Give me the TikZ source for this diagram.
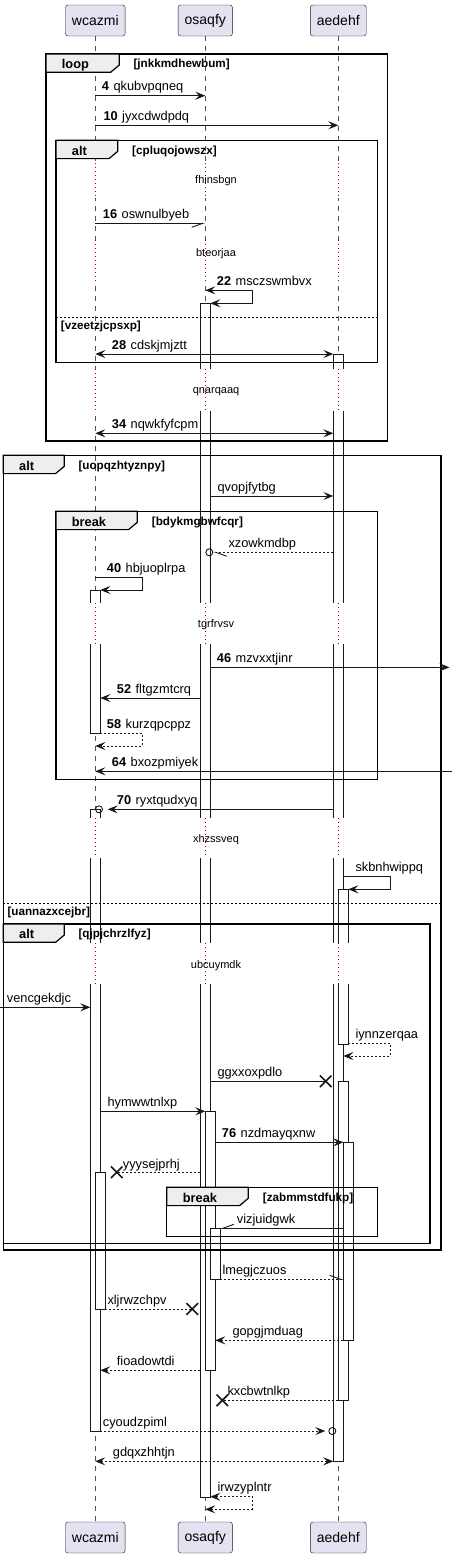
\documentclass[tikz,border=0pt]{standalone}
\usepackage{fontspec}
\setmainfont{Liberation Sans}
\usetikzlibrary{positioning, calc, arrows.meta, shapes.misc}

\definecolor{partfill}{HTML}{E2E2F0}
\definecolor{partline}{HTML}{181818}
\definecolor{tabfill}{HTML}{EEEEEE}
\definecolor{delaydot}{HTML}{A80036}

\tikzset{
  part/.style={draw=partline, fill=partfill, rounded corners=2.5pt, minimum height=31pt, inner xsep=6.5pt, font=\fontsize{14}{16}\selectfont},
  life/.style={draw=partline!75, line width=0.6pt, dash pattern=on 5pt off 5pt},
  dotline/.style={draw=delaydot, line width=0.8pt, dash pattern=on 1pt off 3pt},
  bar/.style={draw=partline, fill=white, line width=0.9pt},
  frm/.style={draw=black, line width=1.5pt},
  tab/.style={draw=black, fill=tabfill, line width=1.2pt},
  divider/.style={draw=black, line width=0.8pt, dash pattern=on 2pt off 2pt},
  plain/.style={draw=partline, line width=0.9pt},
  msg/.style={plain, -{Stealth[length=10pt,width=8pt,inset=4pt]}},
  msgb/.style={plain, {Stealth[length=10pt,width=8pt,inset=4pt]}-{Stealth[length=10pt,width=8pt,inset=4pt]}},
  ret/.style={dash pattern=on 2pt off 2pt},
  half/.style={plain, -{Straight Barb[harpoon,length=11pt,width=8pt]}},
  halfs/.style={plain, -{Straight Barb[harpoon,swap,length=11pt,width=8pt]}},
  lost/.style={draw=partline, cross out, line width=1.6pt, minimum size=10pt, inner sep=0pt},
  ring/.style={draw=partline, circle, line width=0.9pt, minimum size=7pt, inner sep=0pt},
  lbl/.style={anchor=base west, inner sep=0pt, font=\fontsize{12.8}{15}\selectfont},
  delaytxt/.style={inner sep=0pt, font=\fontsize{11}{13}\selectfont},
  ftitle/.style={anchor=base west, inner sep=0pt, font=\bfseries\fontsize{12.8}{15}\selectfont},
  fcond/.style={anchor=base west, inner sep=0pt, font=\bfseries\fontsize{11.7}{14}\selectfont},
}

\begin{document}
\begin{tikzpicture}[x=1pt, y=-1pt]
    \useasboundingbox (0,0) rectangle (455,1558);

    % 参加者
    \node[part] (tw) at (95.3,20.5) {wcazmi};
    \node[part] (to) at (205.3,20.5) {osaqfy};
    \node[part] (ta) at (338.3,20.5) {aedehf};
    \node[part] (bw) at (95.3,1537.5) {wcazmi};
    \node[part] (bo) at (205.3,1537.5) {osaqfy};
    \node[part] (ba) at (338.3,1537.5) {aedehf};

    % バーの列
    \foreach \p in {w,o,a}
      \foreach \k/\n in {-1/L,0/C,1/R,2/R2,3/R3}
        \coordinate (\p\n) at ($(t\p.center)+(5*\k,0)$);

    % 外への端点
    \coordinate (eR1) at (449.5,667.3);
    \coordinate (eR2) at (452,771.3);
    \coordinate (eL1) at (0,1007.3);

    % ライフライン
    \draw[life] (tw) -- (bw);
    \draw[life] (to) -- (bo);
    \draw[life] (ta) -- (ba);

    % 活性化バー
    \draw[bar] (wL |- 0,590) rectangle (wR |- 0,733.7);
    \draw[bar] (wL |- 0,809.3) rectangle (wR |- 0,1431);
    \draw[bar] (wC |- 0,1172.3) rectangle (wR2 |- 0,1309);
    \draw[bar] (oL |- 0,303.3) rectangle (oR |- 0,1497.3);
    \draw[bar] (oC |- 0,1111.3) rectangle (oR2 |- 0,1370);
    \draw[bar] (oR |- 0,1228.3) rectangle (oR3 |- 0,1279.3);
    \draw[bar] (aL |- 0,354) rectangle (aR |- 0,1461.3);
    \draw[bar] (aC |- 0,889.3) rectangle (aR2 |- 0,1044);
    \draw[bar] (aC |- 0,1081.3) rectangle (aR2 |- 0,1400.3);
    \draw[bar] (aR |- 0,1142.3) rectangle (aR3 |- 0,1340.7);

    % 遅延
    \foreach \ya/\yb in {163/198, 240/283, 369/411, 603/644, 818/858, 943/984}
      \foreach \p in {w,o,a} {
        \fill[white] ($(\p L |- 0,\ya)+(-1,0)$) rectangle ($(\p R3 |- 0,\yb)+(1,0)$);
        \draw[dotline] (\p C |- 0,\ya) -- (\p C |- 0,\yb);
      }
    \node[delaytxt] (d1) at (216,180.7) {fhinsbgn};
    \node[delaytxt] (d2) at (216,253.3) {bteorjaa};
    \node[delaytxt] (d3) at (216,391.7) {qnarqaaq};
    \node[delaytxt] (d4) at (216,625) {tgrfrvsv};
    \node[delaytxt] (d5) at (216,840) {xhzssveq};
    \node[delaytxt] (d6) at (216,965.7) {ubcuymdk};

    % 枠 loop
    \draw[frm] (46,54) rectangle (387.7,441);
    \draw[tab] (46,54) -- (119.3,54) -- (119.3,65) -- (110.6,72.3) -- (46,72.3) -- cycle;
    \node[ftitle] (floop) at (61.7,68.8) {loop};
    \node[fcond] (cloop) at (133.3,67.8) {[jnkkmdhewbum]};

    % 枠 alt (内側)
    \draw[frm] (56,140.3) rectangle (377.7,362.3);
    \draw[tab] (56,140.3) -- (117.7,140.3) -- (117.7,151.3) -- (109,158.6) -- (56,158.6) -- cycle;
    \node[ftitle] (falt1) at (71.7,155.1) {alt};
    \node[fcond] (calt1) at (132,154.1) {[cpluqojowszx]};
    \draw[divider] (56,317) -- (377.7,317);
    \node[fcond] (dalt1) at (60.7,329) {[vzeetzjcpsxp]};

    % 枠 alt (外側)
    \draw[frm] (3.3,455.3) rectangle (441,1250);
    \draw[tab] (3.3,455.3) -- (64.3,455.3) -- (64.3,466.3) -- (55.6,473.6) -- (3.3,473.6) -- cycle;
    \node[ftitle] (falt2) at (19,470.1) {alt};
    \node[fcond] (calt2) at (78.3,469.1) {[uopqzhtyznpy]};
    \draw[divider] (3.3,903.3) -- (441,903.3);
    \node[fcond] (dalt2) at (7.3,915.3) {[uannazxcejbr]};

    % 枠 break
    \draw[frm] (56,511.3) rectangle (377.7,779.3);
    \draw[tab] (56,511.3) -- (137.3,511.3) -- (137.3,522.3) -- (128.6,529.6) -- (56,529.6) -- cycle;
    \node[ftitle] (fbrk1) at (71.7,526.1) {break};
    \node[fcond] (cbrk1) at (151.7,525.1) {[bdykmgbwfcqr]};

    % 枠 alt (入れ子)
    \draw[frm] (3.3,924) rectangle (430,1243.3);
    \draw[tab] (3.3,924) -- (64.3,924) -- (64.3,935) -- (55.6,942.3) -- (3.3,942.3) -- cycle;
    \node[ftitle] (falt3) at (19,938.8) {alt};
    \node[fcond] (calt3) at (78.3,937.8) {[qjpjchrzlfyz]};

    % 枠 break (入れ子)
    \draw[frm] (166.7,1187.3) rectangle (377.7,1236.7);
    \draw[tab] (166.7,1187.3) -- (248.3,1187.3) -- (248.3,1198.3) -- (239.6,1205.6) -- (166.7,1205.6) -- cycle;
    \node[ftitle] (fbrk2) at (182.7,1202.1) {break};
    \node[fcond] (cbrk2) at (262.7,1201.1) {[zabmmstdfukp]};

    % メッセージ
    \draw[msg] (wC |- 0,95.7) -- (oC |- 0,95.7);
    \node[lbl] (t4) at (101.7,90.7) {\textbf{4}\hspace{4.5pt}qkubvpqneq};
    \draw[msg] (wC |- 0,125.3) -- (aC |- 0,125.3);
    \node[lbl] (t10) at (103.3,120.3) {\textbf{10}\hspace{4.5pt}jyxcdwdpdq};
    \draw[halfs] (wC |- 0,223.3) -- (oC |- 0,223.3);
    \node[lbl] (t16) at (102.7,218.3) {\textbf{16}\hspace{4.5pt}oswnulbyeb};
    \draw[msgb] (oC |- 0,290.3) -- ++(47,0) -- ++(0,13) -- (oR |- 0,303.3);
    \node[lbl] (t22) at (216.7,285.3) {\textbf{22}\hspace{4.5pt}msczswmbvx};
    \draw[msgb] (wC |- 0,354) -- (aL |- 0,354);
    \node[lbl] (t28) at (111.7,349) {\textbf{28}\hspace{4.5pt}cdskjmjztt};
    \draw[msgb] (wC |- 0,433.3) -- (aL |- 0,433.3);
    \node[lbl] (t34) at (111.7,428.3) {\textbf{34}\hspace{4.5pt}nqwkfyfcpm};
    \draw[msg] (oR |- 0,496) -- (aL |- 0,496);
    \node[lbl] (tq) at (217.3,491) {qvopjfytbg};
    \node[ring] (r1) at ($(oR |- 0,552.3)+(-1,0)$) {};
    \draw[half, ret] (aL |- 0,552.3) -- (r1.east);
    \node[lbl] (tx) at (228.3,547.3) {xzowkmdbp};
    \draw[msg] (wC |- 0,577.7) -- ++(47.4,0) -- ++(0,12.3) -- (wR |- 0,590);
    \node[lbl] (t40) at (106.7,572.7) {\textbf{40}\hspace{4.5pt}hbjuoplrpa};
    \draw[msg] (oR |- 0,667.3) -- (eR1);
    \node[lbl] (t46) at (216.7,662.3) {\textbf{46}\hspace{4.5pt}mzvxxtjinr};
    \draw[msg] (oL |- 0,698) -- (wR |- 0,698);
    \node[lbl] (t52) at (116.7,693) {\textbf{52}\hspace{4.5pt}fltgzmtcrq};
    \draw[msg, ret] (wR |- 0,733.7) -- ++(42.4,0) -- ++(0,12.3) -- (wC |- 0,746);
    \node[lbl] (t58) at (106.7,728.7) {\textbf{58}\hspace{4.5pt}kurzqpcppz};
    \draw[msg] (eR2) -- (wC |- 0,771.3);
    \node[lbl] (t64) at (111.7,766.3) {\textbf{64}\hspace{4.5pt}bxozpmiyek};
    \node[ring] (r2) at ($(wR |- 0,809.3)+(-1.3,0)$) {};
    \draw[msg] (aL |- 0,809.3) -- ($(r2.east)+(4.8,0)$);
    \node[lbl] (t70) at (116.7,804.3) {\textbf{70}\hspace{4.5pt}ryxtqudxyq};
    \draw[msg] (aR |- 0,876.7) -- ++(47,0) -- ++(0,12.6) -- (aR2 |- 0,889.3);
    \node[lbl] (ts) at (355.3,871.7) {skbnhwippq};
    \draw[msg] (eL1) -- (wL |- 0,1007.3);
    \node[lbl] (tv) at (6.7,1002.3) {vencgekdjc};
    \draw[msg, ret] (aR2 |- 0,1043.3) -- ++(42,0) -- ++(0,12.7) -- (aR |- 0,1056);
    \node[lbl] (ti) at (355.3,1038.3) {iynnzerqaa};
    \node[lost] (x1) at (325.7,1081.3) {};
    \draw[plain] (oR |- 0,1081.3) -- (x1.center);
    \node[lbl] (tg) at (217.3,1076.3) {ggxxoxpdlo};
    \draw[msg] (wR |- 0,1111.3) -- (oC |- 0,1111.3);
    \node[lbl] (th) at (107.3,1106.3) {hymwwtnlxp};
    \draw[msg] (oR2 |- 0,1142.3) -- (aR |- 0,1142.3);
    \node[lbl] (t76) at (221.7,1137.3) {\textbf{76}\hspace{4.5pt}nzdmayqxnw};
    \node[lost] (x2) at (116.7,1172.3) {};
    \draw[plain, ret] (oL |- 0,1172.3) -- (x2.center);
    \node[lbl] (ty) at (122.7,1168) {yyysejprhj};
    \draw[halfs] (aR |- 0,1228.3) -- (oR3 |- 0,1228.3);
    \node[lbl] (tvi) at (236.7,1223.3) {vizjuidgwk};
    \draw[half, ret] (oR3 |- 0,1279.3) -- (aR |- 0,1279.3);
    \node[lbl] (tl) at (222.3,1274.3) {lmegjczuos};
    \node[lost] (x3) at (192.3,1309) {};
    \draw[plain, ret] (wR2 |- 0,1309) -- (x3.center);
    \node[lbl] (txl) at (107.3,1304) {xljrwzchpv};
    \draw[msg, ret] (aR |- 0,1340.3) -- (oR2 |- 0,1340.3);
    \node[lbl] (tgo) at (232.3,1335.3) {gopgjmduag};
    \draw[msg, ret] (oL |- 0,1370.3) -- (wR |- 0,1370.3);
    \node[lbl] (tf) at (116.7,1365.3) {fioadowtdi};
    \node[lost] (x4) at (222.3,1400.3) {};
    \draw[plain, ret] (aC |- 0,1400.3) -- (x4.center);
    \node[lbl] (tk) at (227.3,1395.3) {kxcbwtnlkp};
    \node[ring] (r3) at (332.3,1431) {};
    \draw[msg, ret] (wR |- 0,1431) -- ($(r3.west)+(-3.1,0)$);
    \node[lbl] (tc) at (102.7,1426) {cyoudzpiml};
    \draw[msgb, ret] (wC |- 0,1461.3) -- (aL |- 0,1461.3);
    \node[lbl] (tgd) at (112.7,1456.3) {gdqxzhhtjn};
    \draw[msgb, ret] (oR |- 0,1496.7) -- ++(42,0) -- ++(0,12.6) -- (oC |- 0,1509.3);
    \node[lbl] (tir) at (217.3,1491.7) {irwzyplntr};

\end{tikzpicture}
\end{document}
